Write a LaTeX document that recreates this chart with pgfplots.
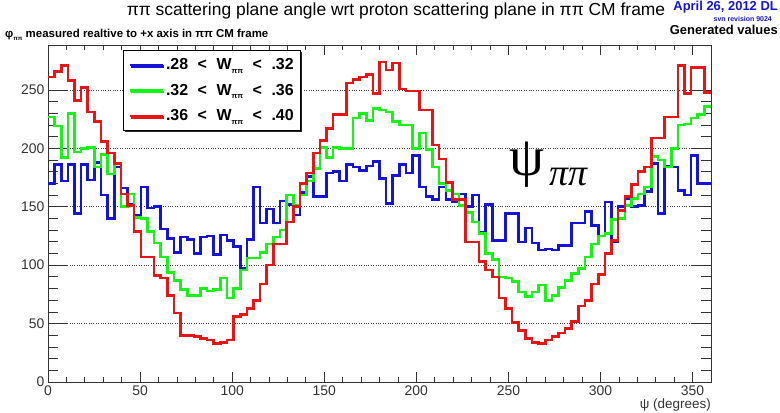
\documentclass[border=0pt]{standalone}
\usepackage{fontspec}
\setmainfont{Liberation Sans}
\newfontfamily\serifgreek{Liberation Serif}
\usepackage{pgfplots}
\pgfplotsset{compat=1.18}
\usepackage{pgfplotstable}
\usetikzlibrary{shadows}
\definecolor{hblue}{RGB}{20,20,215}
\definecolor{hgreen}{RGB}{20,245,20}
\definecolor{hred}{RGB}{235,20,20}

\pgfplotstableread{
k blue green red
0 170 227 261
1 186 219 266
2 172 192 271
3 186 230 258
4 144 197 241
5 186 200 252
6 173 201 231
7 188 184 223
8 160 195 206
9 140 178 196
10 184 187 187
11 166 150 161
12 152 161 151
13 143 141 129
14 167 140 107
15 149 129 107
16 150 119 91
17 131 107 89
18 123 94 74
19 111 87 59
20 124 79 40
21 122 74 40
22 110 74 39
23 124 80 37
24 125 78 36
25 109 79 33
26 126 89 34
27 121 72 36
28 116 80 56
29 97 96 58
30 122 106 63
31 167 106 70
32 136 111 84
33 148 118 100
34 136 124 118
35 155 130 118
36 152 160 137
37 143 151 150
38 162 160 170
39 176 172 179
40 159 183 196
41 159 201 207
42 179 192 217
43 180 201 229
44 172 200 229
45 186 200 256
46 184 226 259
47 181 230 261
48 185 224 263
49 189 234 247
50 174 233 274
51 153 231 267
52 177 223 273
53 186 220 251
54 179 220 249
55 194 200 249
56 167 213 233
57 159 199 233
58 156 184 203
59 167 170 191
60 156 164 171
61 154 161 156
62 161 151 156
63 150 145 120
64 160 137 120
65 128 127 103
66 152 110 96
67 121 105 90
68 121 90 72
69 144 89 63
70 144 86 51
71 120 77 44
72 132 73 37
73 119 77 34
74 113 83 33
75 114 70 36
76 113 74 39
77 117 81 42
78 117 87 46
79 136 93 52
80 136 97 65
81 146 107 70
82 134 118 84
83 125 125 92
84 154 127 110
85 120 139 121
86 150 140 147
87 157 151 159
88 150 157 169
89 151 161 180
90 163 167 184
91 187 193 209
92 144 190 209
93 185 184 227
94 184 200 227
95 164 220 271
96 160 221 247
97 194 226 269
98 170 229 269
99 170 236 248
100 170 236 248
}\hdata

\newcommand{\Wpp}{W\raisebox{-0.4ex}{\fontsize{7.5}{7.5}\selectfont ππ}}
\newcommand{\lt}{\hspace{0.6em}<\hspace{0.6em}}

\begin{document}
\begin{tikzpicture}[x=1bp,y=1bp]
\useasboundingbox (0,0) rectangle (780,412);
\begin{axis}[
  at={(48bp,30bp)}, anchor=south west,
  scale only axis, width=663bp, height=337bp,
  xmin=0, xmax=360, ymin=0, ymax=288.5,
  xtick={0,50,...,350}, minor x tick num=4,
  ytick={0,50,...,250}, minor y tick num=4,
  tick align=inside,
  major tick length=10bp, minor tick length=5bp,
  ytick style={/pgfplots/major tick length=20bp,/pgfplots/minor tick length=10bp},
  axis line style={draw=black!80, line width=0.8bp},
  every tick/.style={black!80, line width=0.8bp},
  ymajorgrids, major grid style={dotted, black!75, line width=0.6bp},
  /pgf/number format/assume math mode=true,
  ticklabel style={font=\fontsize{14}{14}\selectfont, text=black!80},
  xlabel={ψ (degrees)},
  xlabel style={at={(rel axis cs:1,0)}, anchor=north east, yshift=-17bp, font=\fontsize{13.5}{13.5}\selectfont, text=black!80, inner sep=0pt},
  legend style={at={(0.113,0.985)}, anchor=north west, draw=black, line width=1bp, fill=white,
    font=\bfseries\fontsize{16}{18}\selectfont, inner xsep=5bp, inner ysep=6bp, row sep=9bp,
    drop shadow={shadow xshift=1.5bp, shadow yshift=-1.5bp, opacity=1, fill=black!85}},
  legend cell align=left,
  legend image code/.code={\draw[#1] (0bp,0bp) -- (33bp,0bp);},
  legend style={/tikz/every even column/.append style={column sep=2bp}},
]
\addplot[const plot, hblue, line width=2.6bp] table[x expr=\thisrow{k}*3.6, y=blue] {\hdata};
\addlegendentry{.28\lt\Wpp\lt.32}
\addplot[const plot, hgreen, line width=2.6bp] table[x expr=\thisrow{k}*3.6, y=green] {\hdata};
\addlegendentry{.32\lt\Wpp\lt.36}
\addplot[const plot, hred, line width=2.6bp] table[x expr=\thisrow{k}*3.6, y=red] {\hdata};
\addlegendentry{.36\lt\Wpp\lt.40}
\end{axis}
\node[anchor=base, font=\fontsize{17.5}{17.5}\selectfont] at (396,396) {ππ scattering plane angle wrt proton scattering plane in ππ CM frame};
\node[anchor=north east, inner sep=0pt, text=hblue, font=\bfseries\fontsize{13}{13}\selectfont] at (778,411.5) {April 26, 2012 DL};
\node[anchor=north east, inner sep=0pt, text=hblue, font=\bfseries\fontsize{7}{7}\selectfont] at (772,395.5) {svn revision 9024};
\node[anchor=north east, inner sep=0pt, font=\bfseries\fontsize{13}{13}\selectfont] at (778,387.5) {Generated values};
\node[anchor=base west, inner sep=0pt, font=\bfseries\fontsize{11.5}{11.5}\selectfont] at (5,375) {φ\raisebox{-0.5ex}{\fontsize{6}{6}\selectfont ππ} measured realtive to +x axis in ππ CM frame};
\node[anchor=center, inner sep=0pt, font=\serifgreek\fontsize{56}{56}\selectfont] at (527,247) {ψ};
\node[anchor=center, inner sep=0pt, font=\serifgreek\itshape\fontsize{38}{38}\selectfont] at (568,235) {ππ};
\end{tikzpicture}
\end{document}
